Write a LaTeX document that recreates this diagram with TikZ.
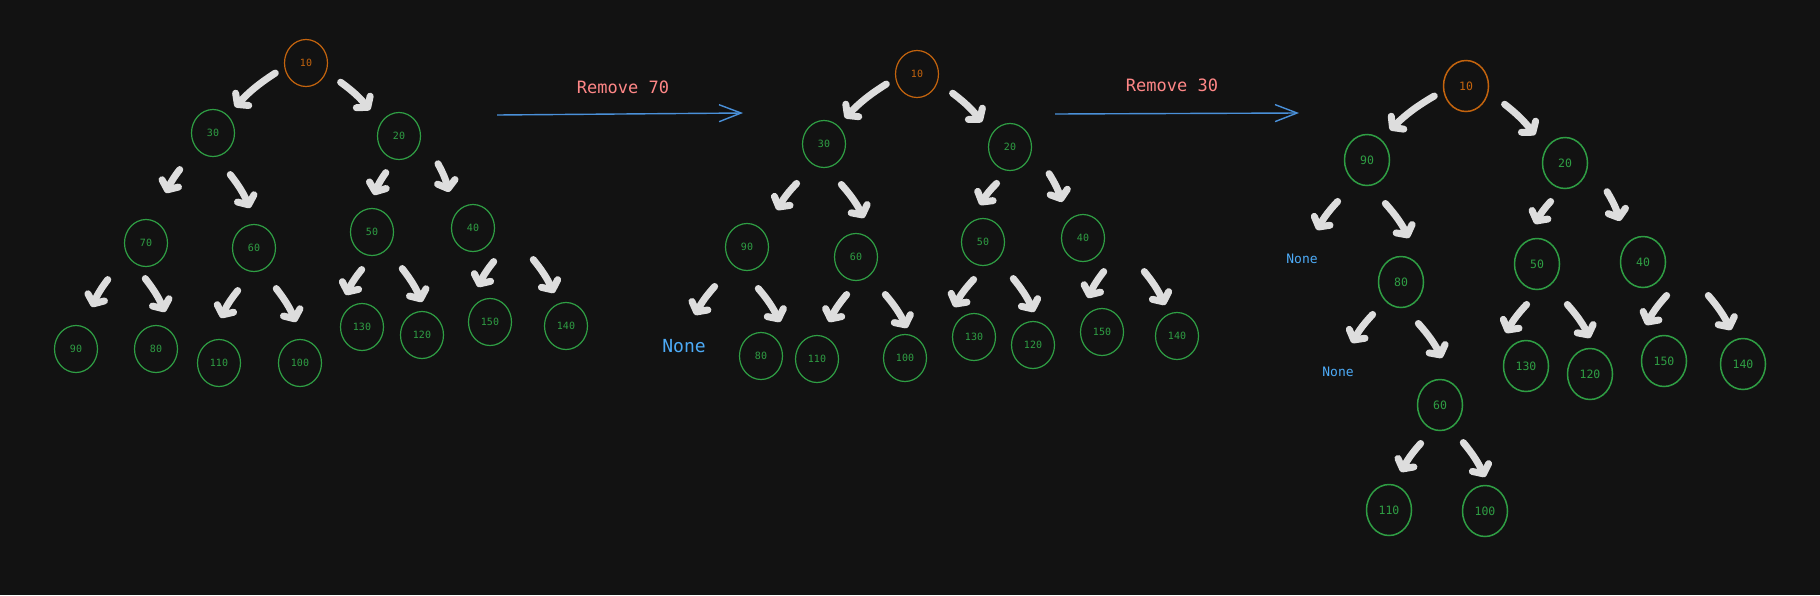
\documentclass[tikz,border=0pt]{standalone}
\usepackage{xcolor}
\usepackage{fontspec}
\usepackage{tikz}
\usetikzlibrary{arrows.meta,shapes.geometric,calc}

\newfontfamily\sketchfont{DejaVu Sans Mono}

\definecolor{bgdark}{HTML}{121212}
\definecolor{leafgreen}{HTML}{2F9E44}
\definecolor{rootorange}{HTML}{C4640E}
\definecolor{stepred}{HTML}{FF8787}
\definecolor{noneblue}{HTML}{4DABF7}
\definecolor{linkblue}{HTML}{4A90D9}
\definecolor{chalk}{HTML}{DDDDDD}

\tikzset{
  tnode/.style={ellipse, draw=leafgreen, text=leafgreen, line width=1.2pt,
    minimum width=43pt, minimum height=47pt, inner sep=0pt,
    font=\sketchfont\fontsize{10}{10}\selectfont},
  troot/.style={tnode, draw=rootorange, text=rootorange},
  wide/.style={minimum width=45pt, minimum height=51pt, line width=1.5pt,
    font=\sketchfont\fontsize{11.5}{11.5}\selectfont},
  nonelabel/.style={text=noneblue, inner sep=0pt, font=\sketchfont\fontsize{18}{18}\selectfont},
  chalkarrow/.style={draw=chalk, line width=7pt, line cap=round, shorten <=2pt,
    -{Straight Barb[length=7pt,width=18pt,round]}},
  steparrow/.style={draw=linkblue, line width=1.4pt,
    -{Straight Barb[length=22pt,width=17pt]}},
  steplabel/.style={text=stepred, font=\sketchfont\fontsize{17}{17}\selectfont}
}

\begin{document}
\begin{tikzpicture}[x=1pt, y=-1pt]
    \fill[bgdark] (0,0) rectangle (1820,595);
    \useasboundingbox (0,0) rectangle (1820,595);

    % before
    \node[troot] (a10) at (306,63) {10};
    \node[tnode] (a30) at (213,133) {30};
    \node[tnode] (a20) at (399,136) {20};
    \node[tnode] (a70) at (146,243) {70};
    \node[tnode] (a60) at (254,248) {60};
    \node[tnode] (a50) at (372,232) {50};
    \node[tnode] (a40) at (473,228) {40};
    \node[tnode] (a90) at (76,349) {90};
    \node[tnode] (a80) at (156,349) {80};
    \node[tnode] (a110) at (219,363) {110};
    \node[tnode] (a100) at (300,363) {100};
    \node[tnode] (a130) at (362,327) {130};
    \node[tnode] (a120) at (422,335) {120};
    \node[tnode] (a150) at (490,322) {150};
    \node[tnode] (a140) at (566,326) {140};

    \node[steplabel] (rm70) at (623,87) {Remove 70};
    \coordinate (rm70s) at (497,115);
    \coordinate (rm70e) at (743,113);
    \draw[steparrow] (rm70s) -- (rm70e);

    % after removing 70
    \node[troot] (b10) at (917,74) {10};
    \node[tnode] (b30) at (824,144) {30};
    \node[tnode] (b20) at (1010,147) {20};
    \node[tnode] (b90) at (747,247) {90};
    \node[tnode] (b60) at (856,257) {60};
    \node[tnode] (b50) at (983,242) {50};
    \node[tnode] (b40) at (1083,238) {40};
    \node[nonelabel] (bnone) at (684,346) {None};
    \node[tnode] (b80) at (761,356) {80};
    \node[tnode] (b110) at (817,359) {110};
    \node[tnode] (b100) at (905,358) {100};
    \node[tnode] (b130) at (974,337) {130};
    \node[tnode] (b120) at (1033,345) {120};
    \node[tnode] (b150) at (1102,332) {150};
    \node[tnode] (b140) at (1177,336) {140};

    \node[steplabel] (rm30) at (1172,85) {Remove 30};
    \coordinate (rm30s) at (1055,114);
    \coordinate (rm30e) at (1299,113);
    \draw[steparrow] (rm30s) -- (rm30e);

    % after removing 30
    \node[troot,wide] (c10) at (1466,86) {10};
    \node[tnode,wide] (c90) at (1367,160) {90};
    \node[tnode,wide] (c20) at (1565,163) {20};
    \node[nonelabel,font=\sketchfont\fontsize{13}{13}\selectfont] (cnoneA) at (1302,259) {None};
    \node[tnode,wide] (c80) at (1401,282) {80};
    \node[tnode,wide] (c50) at (1537,264) {50};
    \node[tnode,wide] (c40) at (1643,262) {40};
    \node[nonelabel,font=\sketchfont\fontsize{13}{13}\selectfont] (cnoneB) at (1338,372) {None};
    \node[tnode,wide] (c60) at (1440,405) {60};
    \node[tnode,wide] (c130) at (1526,366) {130};
    \node[tnode,wide] (c120) at (1590,374) {120};
    \node[tnode,wide] (c150) at (1664,361) {150};
    \node[tnode,wide] (c140) at (1743,364) {140};
    \node[tnode,wide] (c110) at (1389,510) {110};
    \node[tnode,wide] (c100) at (1485,511) {100};

    % left links
    \foreach \src/\dst/\sx/\sy/\ex/\ey in {
        a10/a30/-29/9/22/-26, a30/a70/-32/35/20/-50, a20/a50/-12/35/2/-37,
        a70/a90/-37/35/16/-42, a60/a110/-15/41/2/-45, a50/a130/-9/36/-16/-32, a40/a150/22/32/-12/-35,
        b10/b30/-29/9/21/-26, b30/b90/-26/38/30/-37, b20/b50/-12/35/-3/-37,
        b90/bnone/-31/38/11/-31, b60/b110/-8/36/12/-37, b50/b130/-8/36/-20/-30, b40/b150/22/32/-14/-34,
        c10/c90/-30/9/23/-30, c90/cnoneA/-28/40/15/-29, c20/c50/-13/37/-2/-40,
        c80/cnoneB/-27/31/14/-29, c50/c130/-9/39/-20/-33, c40/c150/25/32/-18/-36, c60/c110/-18/37/12/-38}
      \draw[chalkarrow] ($(\src)+(\sx,\sy)$) to[bend right=7] ($(\dst)+(\ex,\ey)$);

    % right links
    \foreach \src/\dst/\sx/\sy/\ex/\ey in {
        a10/a20/33/18/-29/-26, a30/a60/16/40/-4/-40, a20/a40/38/26/-24/-36,
        a70/a80/-2/34/9/-37, a60/a100/21/39/-4/-41, a50/a120/29/35/0/-33, a40/a140/59/30/-12/-33,
        b10/b20/34/18/-28/-25, b30/b60/16/39/8/-39, b20/b40/38/25/-21/-36,
        b90/b80/10/40/19/-34, b60/b100/28/36/2/-30, b50/b120/29/35/1/-33, b40/b140/60/32/-12/-31,
        c10/c20/37/17/-30/-28, c90/c80/17/42/8/-44, c20/c40/41/27/-23/-41,
        c80/c60/16/40/2/-47, c50/c120/29/39/0/-36, c40/c140/64/32/-12/-34, c60/c100/22/36/0/-34}
      \draw[chalkarrow] ($(\src)+(\sx,\sy)$) to[bend left=7] ($(\dst)+(\ex,\ey)$);
\end{tikzpicture}
\end{document}
